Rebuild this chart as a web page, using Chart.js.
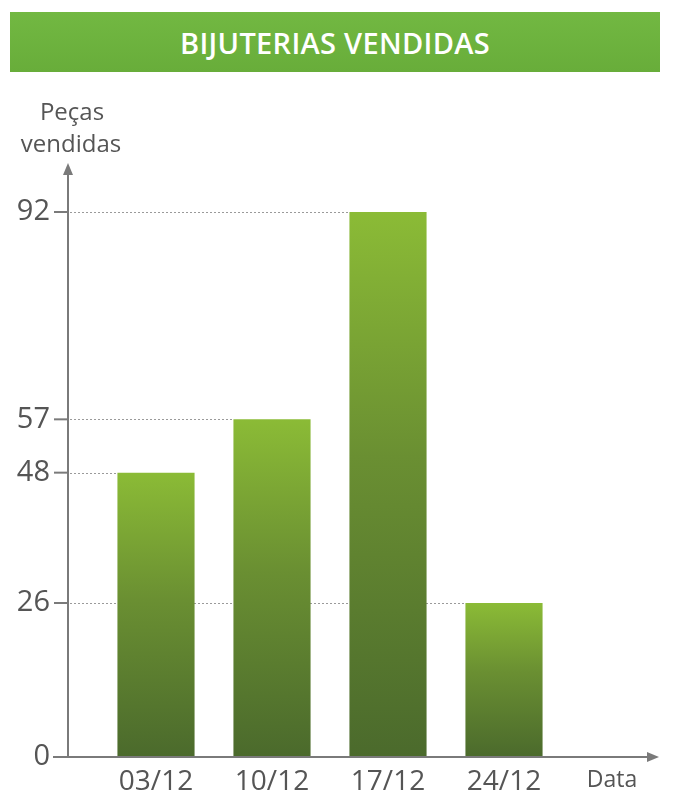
<!DOCTYPE html>
<html lang="pt">
<head>
<meta charset="utf-8">
<title>Bijuterias vendidas</title>
<script src="https://cdn.jsdelivr.net/npm/chart.js@4.4.1/dist/chart.umd.min.js"></script>
<style>
    html, body { margin: 0; padding: 0; background: #fff; }
    #wrap { position: relative; width: 673px; height: 798px; }
    #banner {
        position: absolute; left: 10px; top: 12px; width: 650px; height: 60px;
        background: linear-gradient(180deg, #72b842 0%, #68ad3a 100%);
        color: #fff; font: 600 29px "Open Sans", sans-serif;
        display: flex; align-items: center; justify-content: center;
        letter-spacing: 0.3px;
    }
    #chart { position: absolute; left: 0; top: 0; }
</style>
</head>
<body>
<div id="wrap">
    <canvas id="chart" width="673" height="798"></canvas>
    <div id="banner">BIJUTERIAS VENDIDAS</div>
</div>
<script>
// Data
const datas = ['03/12', '10/12', '17/12', '24/12'];
const pecas = [48, 57, 92, 26];
const yTicks = [0, 26, 48, 57, 92];

const yTitle = ['Peças', 'vendidas'];
const xTitle = 'Data';

const axisColor = '#7a7a7a';
const textColor = '#555';
const font = '"Open Sans", sans-serif';

// where the drawn y axis sits, relative to the chart area
const axisGap = 30;

// Gradient per bar: light green at top, dark olive at base
function barGradient(ctx) {
    const chart = ctx.chart;
    const area = chart.chartArea;
    if (!area) return '#6a8f32';
    const y = chart.scales.y;
    const top = y.getPixelForValue(ctx.raw);
    const base = y.getPixelForValue(0);
    const g = chart.ctx.createLinearGradient(0, top, 0, base);
    g.addColorStop(0, '#8bbb36');
    g.addColorStop(0.45, '#6a8f32');
    g.addColorStop(1, '#4b6a2c');
    return g;
}

function arrowHead(c, x, y, dir) {
    c.beginPath();
    if (dir === 'up') {
        c.moveTo(x, y);
        c.lineTo(x - 5, y + 12);
        c.lineTo(x + 5, y + 12);
    } else {
        c.moveTo(x, y);
        c.lineTo(x - 12, y - 5);
        c.lineTo(x - 12, y + 5);
    }
    c.closePath();
    c.fill();
}

// Dotted guide lines from the axis to each bar
const guideLines = {
    id: 'guideLines',
    beforeDatasetsDraw(chart) {
        const c = chart.ctx;
        const y = chart.scales.y;
        const axisX = chart.chartArea.left - axisGap;
        const meta = chart.getDatasetMeta(0);
        c.save();
        c.strokeStyle = '#9a9a9a';
        c.lineWidth = 1;
        c.setLineDash([2, 2]);
        meta.data.forEach((bar, i) => {
            const py = Math.round(y.getPixelForValue(pecas[i])) + 0.5;
            const left = bar.x - bar.width / 2;
            c.beginPath();
            c.moveTo(axisX + 2, py);
            c.lineTo(left, py);
            c.stroke();
        });
        c.restore();
    }
};

// Axes with arrows, tick dashes and axis titles
const axesDraw = {
    id: 'axesDraw',
    afterDraw(chart) {
        const c = chart.ctx;
        const area = chart.chartArea;
        const y = chart.scales.y;
        const axisX = area.left - axisGap;
        const zeroY = y.getPixelForValue(0);
        c.save();
        c.strokeStyle = axisColor;
        c.fillStyle = axisColor;
        c.lineWidth = 2;

        // y axis
        c.beginPath();
        c.moveTo(axisX, zeroY);
        c.lineTo(axisX, 170);
        c.stroke();
        arrowHead(c, axisX, 163, 'up');

        // x axis
        c.beginPath();
        c.moveTo(axisX - 15, zeroY);
        c.lineTo(650, zeroY);
        c.stroke();
        arrowHead(c, 659, zeroY, 'right');

        // tick dashes
        yTicks.forEach(v => {
            const py = y.getPixelForValue(v);
            c.beginPath();
            c.moveTo(axisX - 14, py);
            c.lineTo(axisX, py);
            c.stroke();
        });

        // titles
        c.fillStyle = textColor;
        c.font = '24px ' + font;
        c.textAlign = 'center';
        c.textBaseline = 'middle';
        c.fillText(yTitle[0], 72, 113);
        c.fillText(yTitle[1], 71, 145);
        c.font = '23px ' + font;
        c.fillText(xTitle, 612, 780);
        c.restore();
    }
};

const ctx = document.getElementById('chart').getContext('2d');
new Chart(ctx, {
    type: 'bar',
    data: {
        labels: datas,
        datasets: [{
            data: pecas,
            backgroundColor: barGradient,
            borderWidth: 0,
            categoryPercentage: 1,
            barPercentage: 0.665
        }]
    },
    options: {
        responsive: false,
        animation: false,
        layout: { padding: { top: 212, right: 111, left: 0, bottom: 0 } },
        plugins: {
            legend: { display: false },
            tooltip: { enabled: false }
        },
        scales: {
            x: {
                grid: { display: false },
                border: { display: false },
                ticks: {
                    color: textColor,
                    font: { family: font, size: 28 },
                    padding: 0,
                    maxRotation: 0
                },
                afterFit: s => {
                    s.height = 41;
                    s.paddingLeft = 0;
                    s.paddingRight = 0;
                }
            },
            y: {
                min: 0,
                max: 92,
                grid: { display: false },
                border: { display: false },
                afterBuildTicks: s => { s.ticks = yTicks.map(v => ({ value: v })); },
                ticks: {
                    color: textColor,
                    font: { family: font, size: 29 },
                    padding: 40
                },
                afterFit: s => {
                    s.width = 98;
                    s.paddingTop = 0;
                    s.paddingBottom = 0;
                }
            }
        }
    },
    plugins: [guideLines, axesDraw]
});
</script>
</body>
</html>
